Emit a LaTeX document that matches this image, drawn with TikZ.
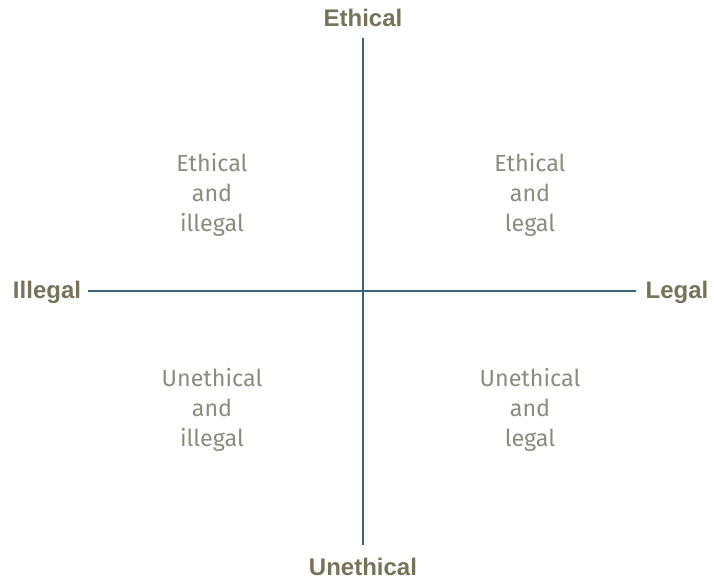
\documentclass[tikz,border=0pt]{standalone}
\usepackage{fontspec}
\setmainfont{Liberation Sans}
\newfontfamily\quadfont{Fira Sans}
\usepackage{tikz}
\usetikzlibrary{positioning}

\definecolor{axisline}{HTML}{3A647C}
\definecolor{axislabel}{HTML}{77735A}
\definecolor{quadtext}{HTML}{8C8B80}

\tikzset{
    axislbl/.style={font=\bfseries\fontsize{18}{19}\selectfont, text=axislabel, inner sep=1pt},
    quad/.style={font=\quadfont\fontsize{17.5}{22.5}\selectfont, text=quadtext, align=center},
    axis/.style={draw=axisline, line width=2.2pt}
}

\begin{document}
\begin{tikzpicture}[x=0.75pt, y=-0.75pt]
    \useasboundingbox (0,0) rectangle (714,580);

    \node[axislbl] (eth) at (363,18) {Ethical};
    \node[axislbl] (uneth) at (363,567) {Unethical};
    \node[axislbl] (illeg) at (47,292) {Illegal};
    \node[axislbl] (leg) at (677,292) {Legal};

    \coordinate (top) at (363,38);
    \coordinate (bot) at (363,545);
    \coordinate (lft) at (88,291);
    \coordinate (rgt) at (636,291);

    \node[quad] (ethil) at (212,195) {Ethical\\and\\illegal};
    \node[quad] (ethle) at (530,195) {Ethical\\and\\legal};
    \node[quad] (unil) at (212,410) {Unethical\\and\\illegal};
    \node[quad] (unle) at (530,410) {Unethical\\and\\legal};

    \draw[axis] (top) -- (bot);
    \draw[axis] (lft) -- (rgt);

\end{tikzpicture}
\end{document}
